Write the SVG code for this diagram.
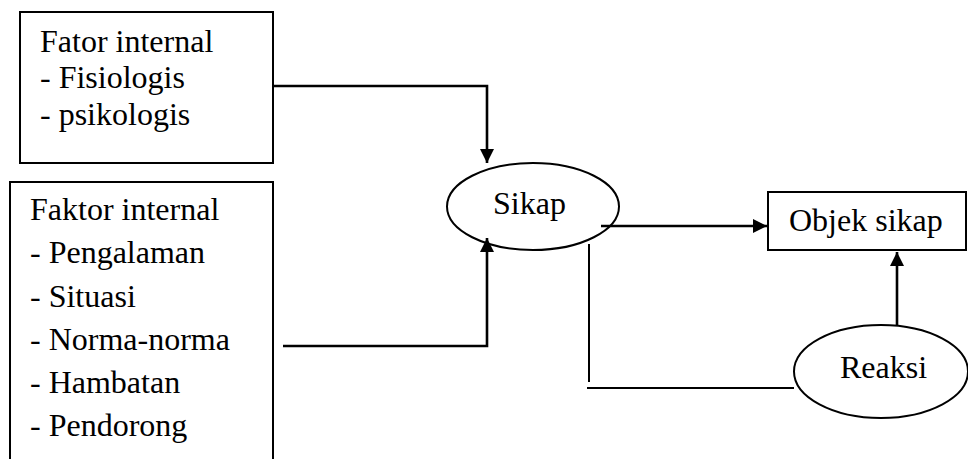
<svg xmlns="http://www.w3.org/2000/svg" width="968" height="459" viewBox="0 0 968 459">
<defs>
<style>
.t{font-family:'Liberation Serif','Times New Roman',serif;font-size:32px;fill:#000}
.box{fill:#fff;stroke:#000;stroke-width:2}
.conn{fill:none;stroke:#000;stroke-width:2.6}
.thin{fill:none;stroke:#000;stroke-width:2}
</style>
<marker id="arr" viewBox="0 0 10 10" refX="10" refY="5" markerWidth="5.5" markerHeight="5.5" markerUnits="strokeWidth" orient="auto">
<path d="M0,0 L10,5 L0,10 Z" fill="#000"/>
</marker>
</defs>
<rect width="968" height="459" fill="#fff"/>
<g id="connectors">
<polyline class="conn" points="273,86 487,86 487,163" marker-end="url(#arr)"/>
<polyline class="conn" points="283,346 487,346 487,238" marker-end="url(#arr)"/>
<line class="conn" x1="601" y1="226" x2="767" y2="226" marker-end="url(#arr)"/>
<line class="conn" x1="897" y1="325" x2="897" y2="252" marker-end="url(#arr)"/>
<line class="thin" x1="589" y1="244" x2="589" y2="382"/>
<line class="thin" x1="587" y1="388" x2="794" y2="388"/>
</g>
<g id="node-fator" class="t">
<rect class="box" x="20" y="12" width="253" height="151"/>
<text x="40" y="52">Fator internal</text>
<text x="40" y="88">- Fisiologis</text>
<text x="40" y="125">- psikologis</text>
</g>
<g id="node-faktor" class="t">
<rect class="box" x="10" y="182" width="263" height="290"/>
<text x="30" y="220">Faktor internal</text>
<text x="30" y="263">- Pengalaman</text>
<text x="30" y="307">- Situasi</text>
<text x="30" y="350">- Norma-norma</text>
<text x="30" y="393">- Hambatan</text>
<text x="30" y="436">- Pendorong</text>
</g>
<g id="node-sikap" class="t">
<ellipse class="thin" cx="533" cy="206.5" rx="86" ry="43.5"/>
<text x="493" y="214">Sikap</text>
</g>
<g id="node-objek" class="t">
<rect class="box" x="768" y="192" width="198" height="58"/>
<text x="789" y="231">Objek sikap</text>
</g>
<g id="node-reaksi" class="t">
<ellipse class="thin" cx="881" cy="371.5" rx="87" ry="46.5" style="fill:#fff"/>
<text x="840" y="378">Reaksi</text>
</g>
</svg>
